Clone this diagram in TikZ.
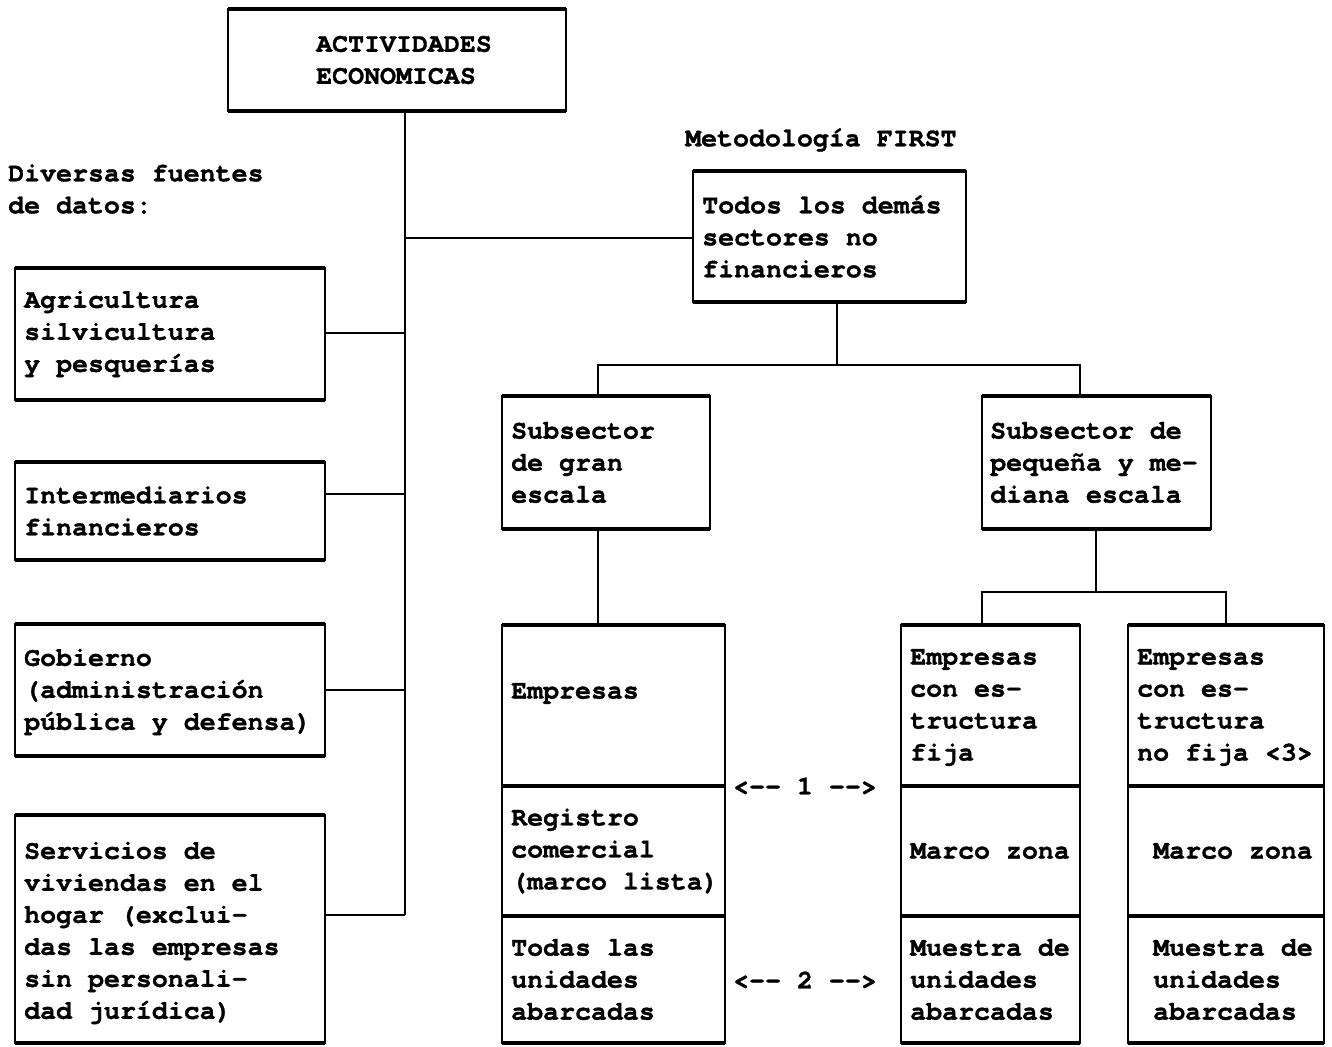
\documentclass[tikz,border=0pt]{standalone}
\usepackage{fontspec}
\setmonofont{texgyrecursor}[Extension=.otf, UprightFont=*-regular, BoldFont=*-bold, ItalicFont=*-italic, BoldItalicFont=*-bolditalic, Ligatures=NoCommon, BoldFeatures={FakeBold=1.2}]
\newcommand\dtxt{\ttfamily\bfseries\fontsize{26.6}{32}\selectfont}
\tikzset{
  boxshape/.style={draw, line width=1.4pt, anchor=north west, inner sep=0pt, outer sep=0pt},
  txtnode/.style={anchor=west, align=left, inner sep=0pt, font=\dtxt},
  conn/.style={line width=1.8pt},
  hbar/.style={line width=3.2pt},
  lbl/.style={inner sep=0pt, font=\dtxt, align=left}
}
% name, x1, y1, x2, y2, text shift, text
\newcommand\mybox[7]{%
  \pgfmathsetmacro\bw{#4-#2}%
  \pgfmathsetmacro\bh{#5-#3}%
  \node[boxshape, minimum width=\bw pt, minimum height=\bh pt] (#1) at (#2,#3) {};
  \node[txtnode] (#1t) at ([#6]#1.west) {#7};
  \draw[hbar] (#1.north west) -- (#1.north east);
  \draw[hbar] (#1.south west) -- (#1.south east);
}
\begin{document}
\begin{tikzpicture}[x=1pt, y=-1pt]
\useasboundingbox (0,0) rectangle (1332,1046);

\mybox{act}{228}{9}{566}{111}{xshift=88pt}{ACTIVIDADES\\ECONOMICAS}
\node[lbl, anchor=west] (meto) at (685,140) {Metodología FIRST};
\node[lbl, anchor=west] (div) at (8,189) {Diversas fuentes\\de datos:};

\mybox{todos}{693}{171}{966}{302}{xshift=9pt}{Todos los demás\\sectores no\\financieros}

\mybox{agr}{15}{268}{325}{400}{xshift=9pt}{Agricultura\\silvicultura\\y pesquerías}
\mybox{int}{15}{462}{325}{560}{xshift=9pt}{Intermediarios\\financieros}
\mybox{gob}{15}{624}{325}{756}{xshift=9pt,yshift=-2pt}{Gobierno\\(administración\\pública y defensa)}
\mybox{serv}{15}{815}{325}{1043}{xshift=9pt,yshift=-4pt}{Servicios de\\viviendas en el\\hogar (exclui-\\das las empresas\\sin personali-\\dad jurídica)}

\mybox{gran}{502}{396}{710}{529}{xshift=9pt}{Subsector\\de gran\\escala}
\mybox{peq}{982}{396}{1211}{529}{xshift=8pt}{Subsector de\\pequeña y me-\\diana escala}

\mybox{emp}{502}{625}{725}{786}{xshift=9pt,yshift=12pt}{Empresas}
\mybox{reg}{502}{786}{725}{916}{xshift=9pt}{Registro\\comercial\\(marco lista)}
\mybox{toda}{502}{916}{725}{1043}{xshift=9pt}{Todas las\\unidades\\abarcadas}

\mybox{ef}{901}{625}{1080}{786}{xshift=9pt,yshift=-2pt}{Empresas\\con es-\\tructura\\fija}
\mybox{mz}{901}{786}{1080}{916}{xshift=9pt}{Marco zona}
\mybox{mu}{901}{916}{1080}{1043}{xshift=9pt}{Muestra de\\unidades\\abarcadas}

\mybox{enf}{1128}{625}{1324}{786}{xshift=9pt,yshift=-2pt}{Empresas\\con es-\\tructura\\no fija <3>}
\mybox{mz2}{1128}{786}{1324}{916}{xshift=25pt}{Marco zona}
\mybox{mu2}{1128}{916}{1324}{1043}{xshift=25pt}{Muestra de\\unidades\\abarcadas}

\node[lbl] (c1) at (805,786) {<-- 1 -->};
\node[lbl] (c2) at (805,980) {<-- 2 -->};

% left spine
\coordinate (spx) at (405,0);
\coordinate (yA) at (0,333);
\coordinate (yI) at (0,494);
\coordinate (yG) at (0,690);
\coordinate (yS) at (0,915);
\coordinate (yT) at (0,238);
\draw[conn] (act.south -| spx) -- (spx |- yS);
\draw[conn] (agr.east |- yA) -- (spx |- yA);
\draw[conn] (int.east |- yI) -- (spx |- yI);
\draw[conn] (gob.east |- yG) -- (spx |- yG);
\draw[conn] (serv.east |- yS) -- (spx |- yS);
\draw[conn] (spx |- yT) -- (todos.west |- yT);

% right tree
\coordinate (tx) at (837,0);
\coordinate (yH1) at (0,365);
\coordinate (lx) at (598,0);
\coordinate (rx) at (1080,0);
\draw[conn] (todos.south -| tx) -- (tx |- yH1);
\draw[conn] (gran.north -| lx) -- (lx |- yH1) -- (rx |- yH1) -- (peq.north -| rx);
\draw[conn] (gran.south -| lx) -- (emp.north -| lx);

\coordinate (px) at (1096,0);
\coordinate (yH2) at (0,592);
\coordinate (mx) at (982,0);
\coordinate (qx) at (1226,0);
\draw[conn] (peq.south -| px) -- (px |- yH2);
\draw[conn] (ef.north -| mx) -- (mx |- yH2) -- (qx |- yH2) -- (enf.north -| qx);
\end{tikzpicture}
\end{document}
